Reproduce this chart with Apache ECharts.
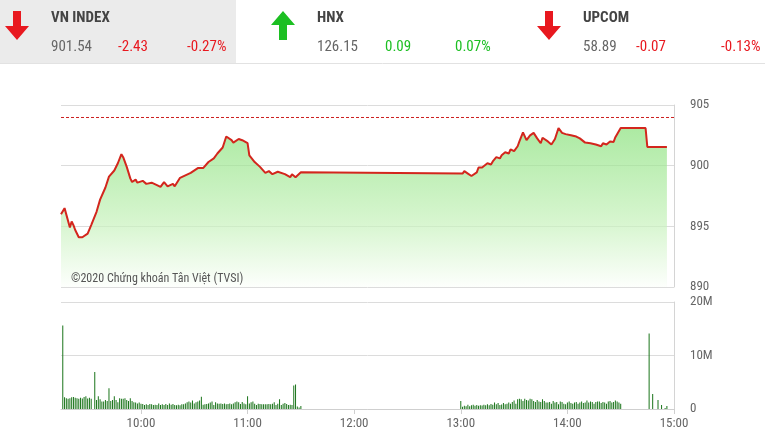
<!DOCTYPE html>
<html>
<head>
<meta charset="utf-8">
<script src="https://cdn.jsdelivr.net/npm/echarts@6.0.0/dist/echarts.min.js"></script>
<style>
html,body{margin:0;padding:0;background:#fff;}
#chart{width:765px;height:445px;}
</style>
</head>
<body>
<div id="chart"></div>
<script>
// ---------------- DATA ----------------
const indexNames = ['VN INDEX', 'HNX', 'UPCOM'];
const indexValues = ['901.54', '126.15', '58.89'];
const indexChanges = ['-2.43', '0.09', '-0.07'];
const indexPercents = ['-0.27%', '0.07%', '-0.13%'];
const indexUp = [false, true, false];

const refPrice = 903.97;
const watermark = '©2020 Chứng khoán Tân Việt (TVSI)';

const priceTimes = [
  '09:15','09:17','09:20','09:21','09:22','09:23','09:25','09:27','09:28','09:30',
  '09:32','09:35','09:37','09:40','09:42','09:45','09:47','09:49','09:50','09:52',
  '09:54','09:55','09:57','09:58','10:01','10:03','10:06','10:09','10:11','10:13',
  '10:15','10:18','10:19','10:22','10:23','10:25','10:26','10:28','10:32','10:35',
  '10:38','10:41','10:43','10:46','10:48','10:51','10:52','10:55','10:57','10:58',
  '11:00','11:01','11:04','11:07','11:10','11:12','11:14','11:17','11:21','11:24',
  '11:25','11:27','11:30',
  '13:01','13:02','13:04','13:06','13:07','13:09','13:10','13:12','13:15','13:17',
  '13:18','13:19','13:20','13:22','13:23','13:25','13:27','13:28','13:30','13:32',
  '13:33','13:35','13:36','13:37','13:39','13:41','13:43','13:45','13:46','13:49',
  '13:51','13:53','13:55','13:57','13:59','14:00','14:02','14:03','14:05','14:07',
  '14:10','14:13','14:16','14:17','14:19','14:20','14:22','14:24','14:26','14:27',
  '14:28','14:30','14:44','14:45','14:56'
];
const priceValues = [
  896.0,896.5,894.9,895.4,895.1,894.7,894.1,894.1,893.95,894.4,
  895.1,896.2,897.2,898.2,899.1,899.6,900.2,900.95,900.7,899.9,
  898.95,898.65,898.85,898.6,898.75,898.5,898.6,898.4,898.25,898.65,
  898.3,898.5,898.3,899.0,898.85,899.2,899.35,899.4,899.8,899.8,
  900.3,900.6,901.0,901.5,902.4,902.1,901.9,902.2,902.1,902.25,
  901.85,900.85,900.3,899.9,899.4,899.55,899.3,899.5,899.3,899.05,
  899.3,899.05,899.45,
  899.35,899.55,899.35,899.15,899.0,899.45,899.85,899.85,900.2,900.1,
  900.35,900.5,900.7,900.6,900.85,901.1,901.0,901.35,901.2,901.6,
  902.0,902.75,902.8,902.1,902.5,902.7,902.25,901.85,902.3,902.0,
  901.75,902.2,903.1,902.7,902.6,902.65,902.5,902.35,902.4,902.25,
  901.9,901.85,901.75,901.85,901.6,901.85,901.75,902.0,901.95,902.35,
  902.5,903.1,903.1,901.54,901.54
];

// volume in millions, one bar per minute
const volMorningStart = '09:16';
const volMorning = [
  15.6,2.2,2.0,1.9,2.0,2.2,2.25,2.1,2.0,1.9,
  2.1,1.95,2.25,2.4,1.95,2.1,1.9,0,6.9,1.7,
  2.4,1.8,1.4,1.4,1.7,1.5,3.9,1.5,1.7,2.4,
  1.7,1.25,2.0,1.9,1.9,2.0,1.7,1.5,2.0,1.5,
  1.25,1.2,1.05,1.2,1.0,0.95,0.75,0.9,0.75,0.95,
  0.9,0.75,0.8,0.75,1.05,0.75,0.9,0.75,0.95,0.75,
  1.05,0.8,0.95,0.75,0.7,0.8,0.7,0.9,0.9,1.05,
  1.25,1.4,1.2,1.6,1.05,1.25,1.4,1.6,2.3,0.8,
  0.9,0.95,1.05,1.2,1.4,0.75,1.25,1.05,1.0,1.05,
  0.95,1.05,0.9,0.95,1.05,0.9,1.05,1.25,1.4,1.25,
  0.95,1.3,1.05,0.9,2.4,1.05,1.25,1.4,1.0,0.75,
  1.0,0.95,0.9,0.9,0.9,0.9,0.95,0.9,1.0,1.25,
  0.75,1.0,1.8,0.75,1.0,1.1,0.95,0.75,0.8,0.75,
  4.4,4.6,0.45,0.3,0.55
];
const volAfternoonStart = '13:00';
const volAfternoon = [
  1.5,0.4,0.6,0.5,0.8,0.5,0.7,0.8,0.6,0.75,
  0.6,0.7,0.65,0.8,0.7,0.9,0.7,0.95,0.8,1.2,
  0.9,1.1,0.75,0.85,1.1,0.9,1.0,1.2,1.0,1.3,
  1.6,1.0,1.8,1.9,1.8,1.5,1.9,1.7,1.6,1.9,
  1.8,1.5,1.3,1.7,1.4,1.3,1.8,1.5,1.2,1.2,
  1.3,1.0,1.5,1.2,1.3,0.9,1.4,1.3,1.0,0.9,
  1.2,1.4,1.1,1.0,1.2,1.3,1.0,1.2,1.4,1.1,
  1.2,1.6,1.2,1.4,1.3,1.0,1.3,1.4,1.4,1.1,
  1.3,1.2,1.0,1.4,1.5,1.2,1.3,1.6,1.4,1.2,
  1.0
];
const volAtcTimes = ['14:46','14:48','14:51','14:53','14:55','14:56'];
const volAtc = [14.1,2.8,1.7,0.75,0.2,0.55];

const axisStart = '09:15';
const axisEnd = '15:00';
const timeTicks = ['10:00','11:00','12:00','13:00','14:00','15:00'];

// ---------------- HELPERS ----------------
const FONT = "'Roboto Condensed','Liberation Sans Narrow','Arial Narrow','DejaVu Sans Condensed',Roboto,sans-serif";
function toMin(s){ const p = s.split(':'); return (+p[0])*60 + (+p[1]); }
function fmt(m){ const h = Math.floor(m/60), mm = Math.round(m%60); return (h<10?'0':'')+h+':'+(mm<10?'0':'')+mm; }

const priceData = priceTimes.map((t,i)=>[toMin(t), priceValues[i]]);
const refData = [[toMin(axisStart), refPrice], [toMin(axisEnd), refPrice]];
const volData = [];
volMorning.forEach((v,i)=>volData.push([toMin(volMorningStart)+i, v]));
volAfternoon.forEach((v,i)=>volData.push([toMin(volAfternoonStart)+i, v]));
volAtcTimes.forEach((t,i)=>volData.push([toMin(t), volAtc[i]]));
const tickMins = timeTicks.map(toMin);

// ---------------- HEADER GRAPHICS ----------------
const RED = '#e8181f', GREEN = '#1cbf22';
const graphics = [
  {type:'rect', shape:{x:0,y:0,width:236,height:63}, style:{fill:'#ebebeb'}, silent:true},
  {type:'line', shape:{x1:0,y1:63.5,x2:765,y2:63.5}, style:{stroke:'#e2e2e2',lineWidth:1}, silent:true}
];
const colX = [0, 266, 532];
indexNames.forEach((name,i)=>{
  const x0 = colX[i] + 5;
  const up = indexUp[i];
  const pts = up
    ? [[x0+12,11],[x0+24,25],[x0+16,25],[x0+16,40],[x0+8,40],[x0+8,25],[x0,25]]
    : [[x0+8,11],[x0+16,11],[x0+16,26],[x0+24,26],[x0+12,40],[x0,26],[x0+8,26]];
  graphics.push({type:'polygon', shape:{points:pts}, style:{fill: up?GREEN:RED}, silent:true});
  const tx = colX[i] + 51;
  graphics.push({type:'text', x:tx, y:18, style:{text:name, fill:'#444', fontSize:15, fontWeight:'bold', fontFamily:FONT, verticalAlign:'middle'}});
  graphics.push({type:'text', x:tx, y:47, style:{text:indexValues[i], fill:'#666', fontSize:15, fontFamily:FONT, verticalAlign:'middle'}});
  const chgX = [118, 385, 636][i];
  const pctX = [187, 455, 721][i];
  graphics.push({type:'text', x:chgX, y:47, style:{text:indexChanges[i], fill: up?GREEN:RED, fontSize:15, fontFamily:FONT, verticalAlign:'middle'}});
  graphics.push({type:'text', x:pctX, y:47, style:{text:indexPercents[i], fill: up?GREEN:RED, fontSize:15, fontFamily:FONT, verticalAlign:'middle'}});
});
graphics.push({type:'text', x:71, y:279, z:100, style:{text:watermark, fill:'#555', fontSize:12, fontFamily:FONT, verticalAlign:'middle'}});

// ---------------- CHART ----------------
const chart = echarts.init(document.getElementById('chart'), null, {renderer:'canvas'});
const gridLine = {lineStyle:{color:'#dcdcdc', width:1}};
chart.setOption({
  animation:false,
  textStyle:{fontFamily:FONT},
  graphic: graphics,
  grid:[
    {left:61, top:105, width:613, height:182},
    {left:61, top:302, width:613, height:107}
  ],
  xAxis:[
    {type:'value', gridIndex:0, min:toMin(axisStart), max:toMin(axisEnd), show:false},
    {type:'value', gridIndex:1, min:toMin(axisStart), max:toMin(axisEnd),
     axisLine:{show:true, lineStyle:{color:'#cfcfcf'}},
     axisTick:{show:true, customValues:tickMins, length:5, lineStyle:{color:'#cfcfcf'}},
     axisLabel:{customValues:tickMins, formatter:v=>fmt(v), color:'#666', fontSize:13, fontFamily:FONT, margin:8},
     splitLine:{show:false}}
  ],
  yAxis:[
    {type:'value', gridIndex:0, position:'right', min:890, max:905, interval:5,
     axisLine:{show:true, lineStyle:{color:'#d4d4d4'}}, axisTick:{show:false},
     axisLabel:{color:'#666', fontSize:13, fontFamily:FONT, margin:16},
     splitLine:gridLine},
    {type:'value', gridIndex:1, position:'right', min:0, max:20, interval:10,
     axisLine:{show:true, lineStyle:{color:'#d4d4d4'}}, axisTick:{show:false},
     axisLabel:{color:'#666', fontSize:13, fontFamily:FONT, margin:16, formatter:v=> v===0?'0':v+'M'},
     splitLine:gridLine}
  ],
  series:[
    {type:'line', xAxisIndex:0, yAxisIndex:0, data:priceData, showSymbol:false, symbol:'none', z:3,
     lineStyle:{color:'#d3261d', width:2},
     areaStyle:{origin:'start', color:new echarts.graphic.LinearGradient(0,0,0,1,[
       {offset:0, color:'#88e07a'},{offset:0.6, color:'#c6f1bb'},{offset:1, color:'#fbfefa'}])}
    },
    {type:'line', xAxisIndex:0, yAxisIndex:0, data:refData, showSymbol:false, symbol:'none', silent:true, z:4,
     lineStyle:{color:'#cc1f1f', type:[3,2], width:1}},
    {type:'bar', xAxisIndex:1, yAxisIndex:1, data:volData, barWidth:1,
     itemStyle:{color:'#1a741a'}}
  ]
});
</script>
</body>
</html>
